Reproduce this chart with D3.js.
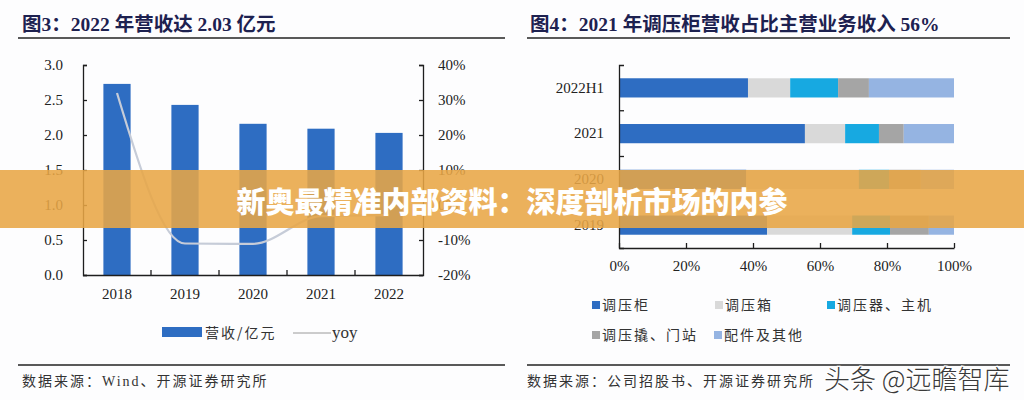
<!DOCTYPE html>
<html>
<head>
<meta charset="utf-8">
<script src="https://cdn.jsdelivr.net/npm/d3@7"></script>
<style>
  html,body{margin:0;padding:0;background:#fdfdfe;}
  svg{display:block;}
  .serif{font-family:"Liberation Serif","Noto Sans CJK SC",serif;}
  .cjk{font-family:"Noto Sans CJK SC","Liberation Serif",sans-serif;}
</style>
</head>
<body>
<svg id="chart" width="1024" height="400"></svg>
<script>
// ---------- data ----------
const years = ["2018","2019","2020","2021","2022"];
const revenue = [2.73, 2.43, 2.16, 2.09, 2.03];
const yoy = [32, -11, -11.1, -3.2, -2.9];
const leftTicks = [0, 0.5, 1.0, 1.5, 2.0, 2.5, 3.0];
const rightTicks = [-20, -10, 0, 10, 20, 30, 40];

const periods = ["2022H1","2021","2020","2019"];
const segNames = ["调压柜","调压箱","调压器、主机","调压撬、门站","配件及其他"];
const segColors = ["#2e6dc2","#d9d9d9","#17a9e1","#a5a5a5","#95b4e2"];
const shareCabinet = [38.5, 55.5, 38.0, 44.2];
const shareBox = [12.6, 12.0, 33.6, 25.4];
const shareRegulator = [14.3, 10.1, 9.0, 11.3];
const shareSkid = [9.2, 7.4, 9.5, 11.6];
const shareOther = [25.4, 15.0, 9.9, 7.5];
const pctTicks = [0, 20, 40, 60, 80, 100];

const svg = d3.select("#chart");
const ink = "#1e1e1e";
const titleInk = "#1d2150";

// ---------- left chart ----------
const L = svg.append("g");
const x = d3.scaleBand().domain(years).range([83, 423]).paddingInner(0.6).paddingOuter(0.3);
const yL = d3.scaleLinear().domain([0, 3]).range([275, 65]);
const yR = d3.scaleLinear().domain([-20, 40]).range([275, 65]);

L.selectAll("rect.bar").data(years).join("rect")
  .attr("class","bar")
  .attr("x", d => x(d)).attr("width", x.bandwidth())
  .attr("y", (d,i) => yL(revenue[i])).attr("height", (d,i) => yL(0) - yL(revenue[i]))
  .attr("fill", "#2e6dc2");

const line = d3.line()
  .x((d,i) => x(years[i]) + x.bandwidth()/2)
  .y(d => yR(d))
  .curve(d3.curveMonotoneX);
L.append("path").datum(yoy).attr("d", line)
  .attr("fill","none").attr("stroke","#c6ccd8").attr("stroke-width",2.2);

const axL = L.append("g").attr("transform","translate(83,0)")
  .call(d3.axisLeft(yL).tickValues(leftTicks).tickFormat(d3.format(".1f")).tickSize(-4).tickPadding(20));
const axR = L.append("g").attr("transform","translate(423,0)")
  .call(d3.axisRight(yR).tickValues(rightTicks).tickFormat(d => d + "%").tickSize(-4).tickPadding(15));
const axB = L.append("g").attr("transform","translate(0,275)")
  .call(d3.axisBottom(x).tickSize(0).tickPadding(13));
// category boundary ticks (pointing up)
const bounds = years.slice(1).map(d => x(d) - x.step()*x.paddingInner()/2);
L.selectAll("line.bt").data(bounds).join("line")
  .attr("x1", d => d).attr("x2", d => d).attr("y1", 275).attr("y2", 270)
  .attr("stroke", ink).attr("stroke-width", 1.3);
[axL, axR, axB].forEach(a => {
  a.selectAll("path,line").attr("stroke", ink).attr("stroke-width", 1.3);
  a.selectAll("text").attr("class","serif").attr("font-size", 15).attr("fill", "#222");
});
axB.select(".domain").attr("d", "M83,0.5H423");

// left legend
L.append("rect").attr("x",162).attr("y",327).attr("width",40).attr("height",10).attr("fill","#2e6dc2");
L.append("text").attr("class","cjk").attr("x",205).attr("y",338).attr("font-size",14).attr("fill","#333")
  .attr("letter-spacing",2).text("营收/亿元");
L.append("line").attr("x1",293).attr("x2",331).attr("y1",333).attr("y2",333).attr("stroke","#9a9a9a").attr("stroke-width",1);
L.append("text").attr("class","serif").attr("x",332).attr("y",338).attr("font-size",17).attr("fill","#333").text("yoy");

// ---------- right chart ----------
const R = svg.append("g");
const yB = d3.scaleBand().domain(periods).range([65, 248]).paddingInner(0.58).paddingOuter(0.29);
const xP = d3.scaleLinear().domain([0, 100]).range([619, 954]);

const rows = periods.map((p,i) => ({
  period: p,
  [segNames[0]]: shareCabinet[i],
  [segNames[1]]: shareBox[i],
  [segNames[2]]: shareRegulator[i],
  [segNames[3]]: shareSkid[i],
  [segNames[4]]: shareOther[i]
}));
const stacked = d3.stack().keys(segNames)(rows);
R.selectAll("g.seg").data(stacked).join("g")
  .attr("class","seg").attr("fill", (d,i) => segColors[i])
  .selectAll("rect").data(d => d).join("rect")
  .attr("x", d => xP(d[0])).attr("width", d => xP(d[1]) - xP(d[0]))
  .attr("y", d => yB(d.data.period)).attr("height", yB.bandwidth());

const axY = R.append("g").attr("transform","translate(619,0)")
  .call(d3.axisLeft(yB).tickSize(0).tickSizeOuter(-5).tickPadding(15));
const ybounds = periods.slice(1).map(d => yB(d) - yB.step()*yB.paddingInner()/2);
R.selectAll("line.yt").data(ybounds).join("line")
  .attr("x1", 619).attr("x2", 624).attr("y1", d => d).attr("y2", d => d)
  .attr("stroke", ink).attr("stroke-width", 1.3);
const axX = R.append("g").attr("transform","translate(0,248)")
  .call(d3.axisBottom(xP).tickValues(pctTicks).tickFormat(d => d + "%").tickSize(-5).tickSizeOuter(0).tickPadding(12));
[axY, axX].forEach(a => {
  a.selectAll("path,line").attr("stroke", ink).attr("stroke-width", 1.3);
  a.selectAll("text").attr("class","serif").attr("font-size", 15).attr("fill", "#222");
});

// right legend
const legPos = [[592,301],[715,301],[827,301],[592,331],[714,331]];
const leg = R.selectAll("g.leg").data(segNames).join("g").attr("class","leg")
  .attr("transform", (d,i) => `translate(${legPos[i][0]},${legPos[i][1]})`);
leg.append("rect").attr("width",8).attr("height",8).attr("fill",(d,i) => segColors[i]);
leg.append("text").attr("class","cjk").attr("x",10).attr("y",9).attr("font-size",14)
  .attr("letter-spacing",2).attr("fill","#333").text(d => d);

// ---------- titles, rules, sources ----------
function title(xp, txt) {
  svg.append("text").attr("class","serif").attr("x",xp).attr("y",31)
    .attr("font-size",19.5).attr("font-weight","bold").attr("fill",titleInk).text(txt);
}
title(22, "图3：2022 年营收达 2.03 亿元");
title(530, "图4：2021 年调压柜营收占比主营业务收入 56%");
[[18,505],[527,1010]].forEach(([a,b]) => {
  svg.append("line").attr("x1",a).attr("x2",b).attr("y1",38).attr("y2",38).attr("stroke","#222").attr("stroke-width",1.6);
  svg.append("line").attr("x1",a).attr("x2",b).attr("y1",365).attr("y2",365).attr("stroke","#222").attr("stroke-width",1.6);
});
svg.append("text").attr("class","serif").attr("x",22).attr("y",386).attr("font-size",14)
  .attr("letter-spacing",2).attr("fill","#333").text("数据来源：Wind、开源证券研究所");
svg.append("text").attr("class","serif").attr("x",527).attr("y",386).attr("font-size",14)
  .attr("letter-spacing",2).attr("fill","#333").text("数据来源：公司招股书、开源证券研究所");

// watermark
svg.append("text").attr("class","cjk").attr("x",824).attr("y",389).attr("font-size",26)
  .attr("font-weight",300).attr("fill","#3a3a3a").attr("stroke","#ffffff").attr("stroke-width",2.5)
  .attr("paint-order","stroke").text("头条 @远瞻智库");

// ---------- banner ----------
svg.append("rect").attr("x",0).attr("y",170).attr("width",1024).attr("height",58)
  .attr("fill","#e8a645").attr("opacity",0.88);
svg.append("text").attr("class","cjk").attr("x",512).attr("y",200).attr("text-anchor","middle")
  .attr("dominant-baseline","central").attr("font-size",29).attr("font-weight",900)
  .attr("fill","#ffffff").text("新奥最精准内部资料：深度剖析市场的内参");
</script>
</body>
</html>
